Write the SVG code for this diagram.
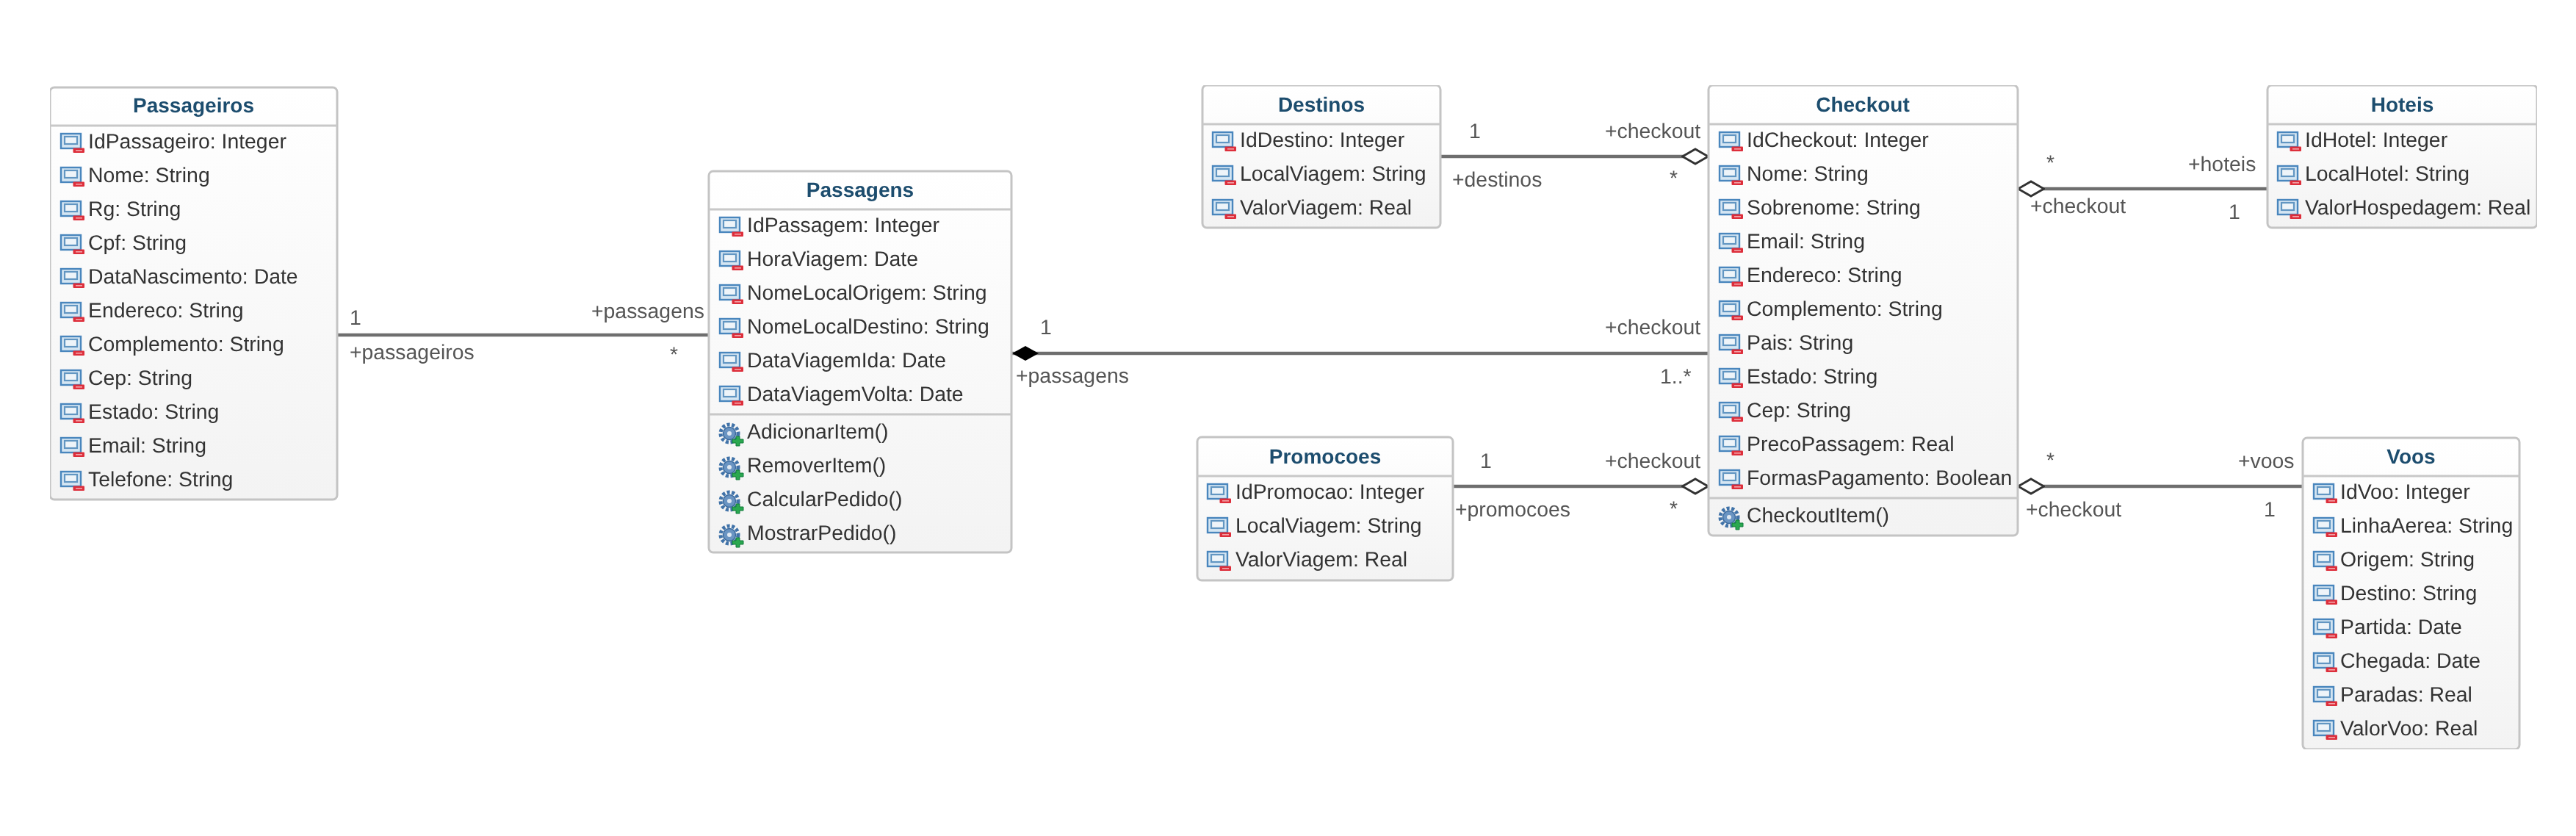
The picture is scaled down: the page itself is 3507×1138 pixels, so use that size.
<svg xmlns="http://www.w3.org/2000/svg" width="3507" height="1138" viewBox="0 0 3507 1138">
<style>
text{font-family:"Liberation Sans",Arial,sans-serif;font-size:28.4px;text-rendering:geometricPrecision}
.box{fill:url(#body);stroke:#c4c4c4;stroke-width:3}
.sep{stroke:#c8c8c8;stroke-width:3}
.t{font-weight:bold;font-size:28px;fill:#1f4d6e;text-anchor:middle}
.r{fill:#333}
.l{fill:#555}
.c{stroke:#6e6e6e;stroke-width:4.6;fill:none}
.agg{marker-end:url(#open)}
.comp{marker-end:url(#solid)}
</style>
<defs>
<linearGradient id="body" x1="0" y1="0" x2="0" y2="1"><stop offset="0" stop-color="#fff"/><stop offset="1" stop-color="#f3f3f3"/></linearGradient>
<filter id="soft" x="0" y="0" width="1" height="1" filterUnits="objectBoundingBox"><feGaussianBlur stdDeviation="0.55"/></filter>
<marker id="open" markerUnits="userSpaceOnUse" markerWidth="38" markerHeight="24" viewBox="0 0 38 24" refX="37" refY="12" orient="auto"><path d="M1.5 12L19 2L36.5 12L19 22Z" fill="#fff" stroke="#333" stroke-width="3"/></marker>
<marker id="solid" markerUnits="userSpaceOnUse" markerWidth="38" markerHeight="24" viewBox="0 0 38 24" refX="37" refY="12" orient="auto"><path d="M1 12L19 2L37 12L19 22Z" fill="#000"/></marker>
<g id="attr">
<rect x="1" y="-20" width="27" height="20" fill="#d5e6f3" stroke="#4a86bd" stroke-width="2.4"/>
<rect x="6" y="-16" width="17" height="10" fill="#eef4f9" stroke="#6296c2" stroke-width="2.2"/>
<rect x="17.5" y="-0.5" width="15.5" height="6.5" rx="1" fill="#dd2f3b"/>
<rect x="21" y="2" width="9" height="1.6" fill="#f2a3a8"/>
</g>
<g id="oper">
<circle cx="14" cy="-7" r="12" fill="none" stroke="#3f72a8" stroke-width="5" stroke-dasharray="4 2.6"/>
<circle cx="14" cy="-7" r="8.5" fill="#6a94c2" stroke="#3a6a9e" stroke-width="1.5"/>
<circle cx="14" cy="-7" r="3" fill="#dfe8f2"/>
<path d="M23-3h5v4h5v5h-5v4h-5v-4h-5v-5h5z" fill="#2aa84f" stroke="#157a3a" stroke-width="1"/>
</g>
</defs>
<rect width="3507" height="1138" fill="#fff"/>
<g filter="url(#soft)">
<g id="connectors">
<line class="c" x1="459" y1="456" x2="965" y2="456"/>
<line class="c comp" x1="2326" y1="481" x2="1378" y2="481"/>
<line class="c agg" x1="1961" y1="213" x2="2326" y2="213"/>
<line class="c agg" x1="1977" y1="662" x2="2326" y2="662"/>
<line class="c agg" x1="3087" y1="257" x2="2747" y2="257"/>
<line class="c agg" x1="3135" y1="662" x2="2747" y2="662"/>
<g id="connector-labels">
<text class="l" x="476" y="442">1</text>
<text class="l" x="805" y="433">+passagens</text>
<text class="l" x="476" y="489">+passageiros</text>
<text class="l" x="912" y="492">*</text>
<text class="l" x="1416" y="455">1</text>
<text class="l" x="1383" y="521">+passagens</text>
<text class="l" x="2185" y="455">+checkout</text>
<text class="l" x="2260" y="522">1..*</text>
<text class="l" x="2000" y="188">1</text>
<text class="l" x="2185" y="188">+checkout</text>
<text class="l" x="1977" y="254">+destinos</text>
<text class="l" x="2273" y="252">*</text>
<text class="l" x="2015" y="637">1</text>
<text class="l" x="2185" y="637">+checkout</text>
<text class="l" x="1981" y="703">+promocoes</text>
<text class="l" x="2273" y="702">*</text>
<text class="l" x="2786" y="231">*</text>
<text class="l" x="2979" y="233">+hoteis</text>
<text class="l" x="2764" y="290">+checkout</text>
<text class="l" x="3034" y="298">1</text>
<text class="l" x="2786" y="636">*</text>
<text class="l" x="3047" y="637">+voos</text>
<text class="l" x="2758" y="703">+checkout</text>
<text class="l" x="3082" y="703">1</text>
</g>
</g>
<g id="Passageiros">
<rect class="box" x="68" y="119" width="391" height="561" rx="6"/>
<line class="sep" x1="68" y1="171" x2="459" y2="171"/>
<text class="t" x="263.5" y="153">Passageiros</text>
<use href="#attr" x="82" y="202"/><text class="r" x="120" y="202">IdPassageiro: Integer</text>
<use href="#attr" x="82" y="248"/><text class="r" x="120" y="248">Nome: String</text>
<use href="#attr" x="82" y="294"/><text class="r" x="120" y="294">Rg: String</text>
<use href="#attr" x="82" y="340"/><text class="r" x="120" y="340">Cpf: String</text>
<use href="#attr" x="82" y="386"/><text class="r" x="120" y="386">DataNascimento: Date</text>
<use href="#attr" x="82" y="432"/><text class="r" x="120" y="432">Endereco: String</text>
<use href="#attr" x="82" y="478"/><text class="r" x="120" y="478">Complemento: String</text>
<use href="#attr" x="82" y="524"/><text class="r" x="120" y="524">Cep: String</text>
<use href="#attr" x="82" y="570"/><text class="r" x="120" y="570">Estado: String</text>
<use href="#attr" x="82" y="616"/><text class="r" x="120" y="616">Email: String</text>
<use href="#attr" x="82" y="662"/><text class="r" x="120" y="662">Telefone: String</text>
</g>
<g id="Passagens">
<rect class="box" x="965" y="233" width="412" height="519" rx="6"/>
<line class="sep" x1="965" y1="285" x2="1377" y2="285"/>
<line class="sep" x1="965" y1="564" x2="1377" y2="564"/>
<text class="t" x="1171" y="268">Passagens</text>
<use href="#attr" x="979" y="316"/><text class="r" x="1017" y="316">IdPassagem: Integer</text>
<use href="#attr" x="979" y="362"/><text class="r" x="1017" y="362">HoraViagem: Date</text>
<use href="#attr" x="979" y="408"/><text class="r" x="1017" y="408">NomeLocalOrigem: String</text>
<use href="#attr" x="979" y="454"/><text class="r" x="1017" y="454">NomeLocalDestino: String</text>
<use href="#attr" x="979" y="500"/><text class="r" x="1017" y="500">DataViagemIda: Date</text>
<use href="#attr" x="979" y="546"/><text class="r" x="1017" y="546">DataViagemVolta: Date</text>
<use href="#oper" x="979" y="597"/><text class="r" x="1017" y="597">AdicionarItem()</text>
<use href="#oper" x="979" y="643"/><text class="r" x="1017" y="643">RemoverItem()</text>
<use href="#oper" x="979" y="689"/><text class="r" x="1017" y="689">CalcularPedido()</text>
<use href="#oper" x="979" y="735"/><text class="r" x="1017" y="735">MostrarPedido()</text>
</g>
<g id="Destinos">
<rect class="box" x="1637" y="116" width="324" height="194" rx="6"/>
<line class="sep" x1="1637" y1="169" x2="1961" y2="169"/>
<text class="t" x="1799" y="152">Destinos</text>
<use href="#attr" x="1650" y="200"/><text class="r" x="1688" y="200">IdDestino: Integer</text>
<use href="#attr" x="1650" y="246"/><text class="r" x="1688" y="246">LocalViagem: String</text>
<use href="#attr" x="1650" y="292"/><text class="r" x="1688" y="292">ValorViagem: Real</text>
</g>
<g id="Promocoes">
<rect class="box" x="1630" y="595" width="348" height="195" rx="6"/>
<line class="sep" x1="1630" y1="648" x2="1978" y2="648"/>
<text class="t" x="1804" y="631">Promocoes</text>
<use href="#attr" x="1643" y="679"/><text class="r" x="1682" y="679">IdPromocao: Integer</text>
<use href="#attr" x="1643" y="725"/><text class="r" x="1682" y="725">LocalViagem: String</text>
<use href="#attr" x="1643" y="771"/><text class="r" x="1682" y="771">ValorViagem: Real</text>
</g>
<g id="Checkout">
<rect class="box" x="2326" y="116" width="421" height="613" rx="6"/>
<line class="sep" x1="2326" y1="169" x2="2747" y2="169"/>
<line class="sep" x1="2326" y1="678" x2="2747" y2="678"/>
<text class="t" x="2536" y="152">Checkout</text>
<use href="#attr" x="2340" y="200"/><text class="r" x="2378" y="200">IdCheckout: Integer</text>
<use href="#attr" x="2340" y="246"/><text class="r" x="2378" y="246">Nome: String</text>
<use href="#attr" x="2340" y="292"/><text class="r" x="2378" y="292">Sobrenome: String</text>
<use href="#attr" x="2340" y="338"/><text class="r" x="2378" y="338">Email: String</text>
<use href="#attr" x="2340" y="384"/><text class="r" x="2378" y="384">Endereco: String</text>
<use href="#attr" x="2340" y="430"/><text class="r" x="2378" y="430">Complemento: String</text>
<use href="#attr" x="2340" y="476"/><text class="r" x="2378" y="476">Pais: String</text>
<use href="#attr" x="2340" y="522"/><text class="r" x="2378" y="522">Estado: String</text>
<use href="#attr" x="2340" y="568"/><text class="r" x="2378" y="568">Cep: String</text>
<use href="#attr" x="2340" y="614"/><text class="r" x="2378" y="614">PrecoPassagem: Real</text>
<use href="#attr" x="2340" y="660"/><text class="r" x="2378" y="660">FormasPagamento: Boolean</text>
<use href="#oper" x="2340" y="711"/><text class="r" x="2378" y="711">CheckoutItem()</text>
</g>
<g id="Hoteis">
<rect class="box" x="3087" y="116" width="367" height="194" rx="6"/>
<line class="sep" x1="3087" y1="169" x2="3454" y2="169"/>
<text class="t" x="3270.5" y="152">Hoteis</text>
<use href="#attr" x="3100" y="200"/><text class="r" x="3138" y="200">IdHotel: Integer</text>
<use href="#attr" x="3100" y="246"/><text class="r" x="3138" y="246">LocalHotel: String</text>
<use href="#attr" x="3100" y="292"/><text class="r" x="3138" y="292">ValorHospedagem: Real</text>
</g>
<g id="Voos">
<rect class="box" x="3135" y="596" width="295" height="424" rx="6"/>
<line class="sep" x1="3135" y1="648" x2="3430" y2="648"/>
<text class="t" x="3282.5" y="631">Voos</text>
<use href="#attr" x="3149" y="679"/><text class="r" x="3186" y="679">IdVoo: Integer</text>
<use href="#attr" x="3149" y="725"/><text class="r" x="3186" y="725">LinhaAerea: String</text>
<use href="#attr" x="3149" y="771"/><text class="r" x="3186" y="771">Origem: String</text>
<use href="#attr" x="3149" y="817"/><text class="r" x="3186" y="817">Destino: String</text>
<use href="#attr" x="3149" y="863"/><text class="r" x="3186" y="863">Partida: Date</text>
<use href="#attr" x="3149" y="909"/><text class="r" x="3186" y="909">Chegada: Date</text>
<use href="#attr" x="3149" y="955"/><text class="r" x="3186" y="955">Paradas: Real</text>
<use href="#attr" x="3149" y="1001"/><text class="r" x="3186" y="1001">ValorVoo: Real</text>
</g>
</g>
</svg>
